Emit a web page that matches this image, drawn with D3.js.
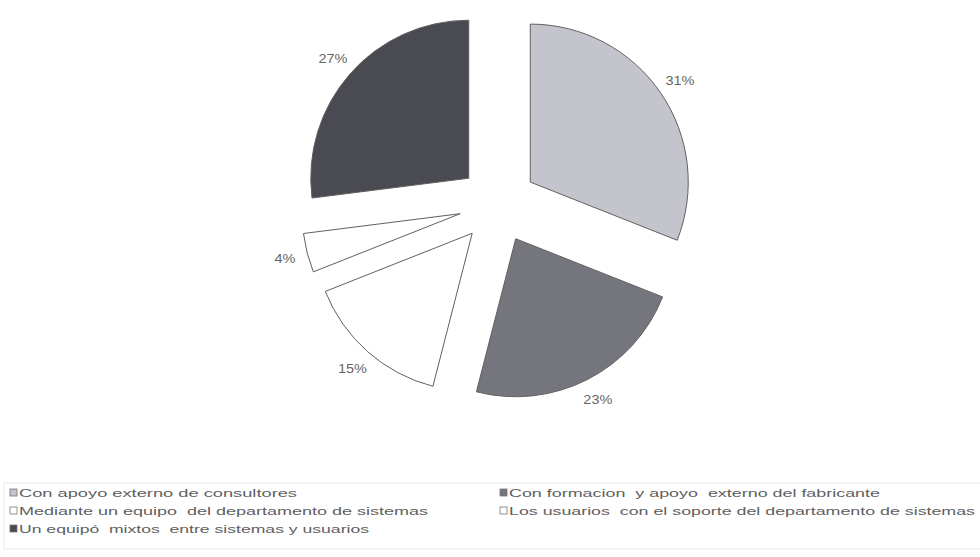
<!DOCTYPE html>
<html>
<head>
<meta charset="utf-8">
<script src="https://cdn.jsdelivr.net/npm/d3@7"></script>
<style>
  html, body { margin: 0; padding: 0; background: #ffffff; }
  svg { display: block; }
  text { font-family: "Liberation Sans", Arial, sans-serif; white-space: pre; }
</style>
</head>
<body>
<svg id="chart" width="980" height="557"></svg>
<script>
const categories = [
  "Con apoyo externo de consultores",
  "Con formacion  y apoyo  externo del fabricante",
  "Mediante un equipo  del departamento de sistemas",
  "Los usuarios  con el soporte del departamento de sistemas",
  "Un equipó  mixtos  entre sistemas y usuarios"
];
const values = [31, 23, 15, 4, 27];
const valueLabels = ["31%", "23%", "15%", "4%", "27%"];
const colors = ["#c4c5cc", "#75757e", "#ffffff", "#ffffff", "#4a4a52"];

const svg = d3.select("#chart");
const cx = 498, cy = 204, R = 158, explode = 39, labelR = 220;

const pie = d3.pie().sort(null).value(d => d).startAngle(0).endAngle(2 * Math.PI);
const arcs = pie(values);
const arc = d3.arc().innerRadius(0).outerRadius(R);
const labelArc = d3.arc().innerRadius(labelR).outerRadius(labelR);

const g = svg.append("g").attr("transform", `translate(${cx},${cy})`);

g.selectAll("path.slice")
  .data(arcs)
  .join("path")
  .attr("class", "slice")
  .attr("transform", d => {
    const a = (d.startAngle + d.endAngle) / 2;
    return `translate(${explode * Math.sin(a)},${-explode * Math.cos(a)})`;
  })
  .attr("d", arc)
  .attr("fill", (d, i) => colors[i])
  .attr("stroke", "#606060")
  .attr("stroke-width", 1);

g.selectAll("text.lbl")
  .data(arcs)
  .join("text")
  .attr("class", "lbl")
  .attr("x", d => labelArc.centroid(d)[0])
  .attr("y", d => labelArc.centroid(d)[1])
  .attr("dy", "0.35em")
  .attr("text-anchor", "middle")
  .attr("font-size", 12)
  .attr("fill", "#666")
  .attr("textLength", (d, i) => valueLabels[i].length === 2 ? 21 : 29)
  .attr("lengthAdjust", "spacingAndGlyphs")
  .text((d, i) => valueLabels[i]);

// Legend
const legTop = 483;
svg.append("rect")
  .attr("x", 4).attr("y", legTop)
  .attr("width", 990).attr("height", 66)
  .attr("fill", "none")
  .attr("stroke", "#e8e8e8")
  .attr("stroke-width", 1);

const colX = [10, 500];
const rowY = [493, 511, 529];
const textLens = [278, 371, 409, 466, 350];

categories.forEach((c, i) => {
  const col = i % 2, row = Math.floor(i / 2);
  const x = colX[col], y = rowY[row];
  svg.append("rect")
    .attr("x", x).attr("y", y - 4)
    .attr("width", 7).attr("height", 7)
    .attr("fill", colors[i])
    .attr("stroke", "#777")
    .attr("stroke-width", 0.8);
  svg.append("text")
    .attr("x", x + 9).attr("y", y)
    .attr("dy", "0.35em")
    .attr("font-size", 11.5)
    .attr("fill", "#606060")
    .attr("textLength", textLens[i])
    .attr("lengthAdjust", "spacingAndGlyphs")
    .text(c);
});
</script>
</body>
</html>
